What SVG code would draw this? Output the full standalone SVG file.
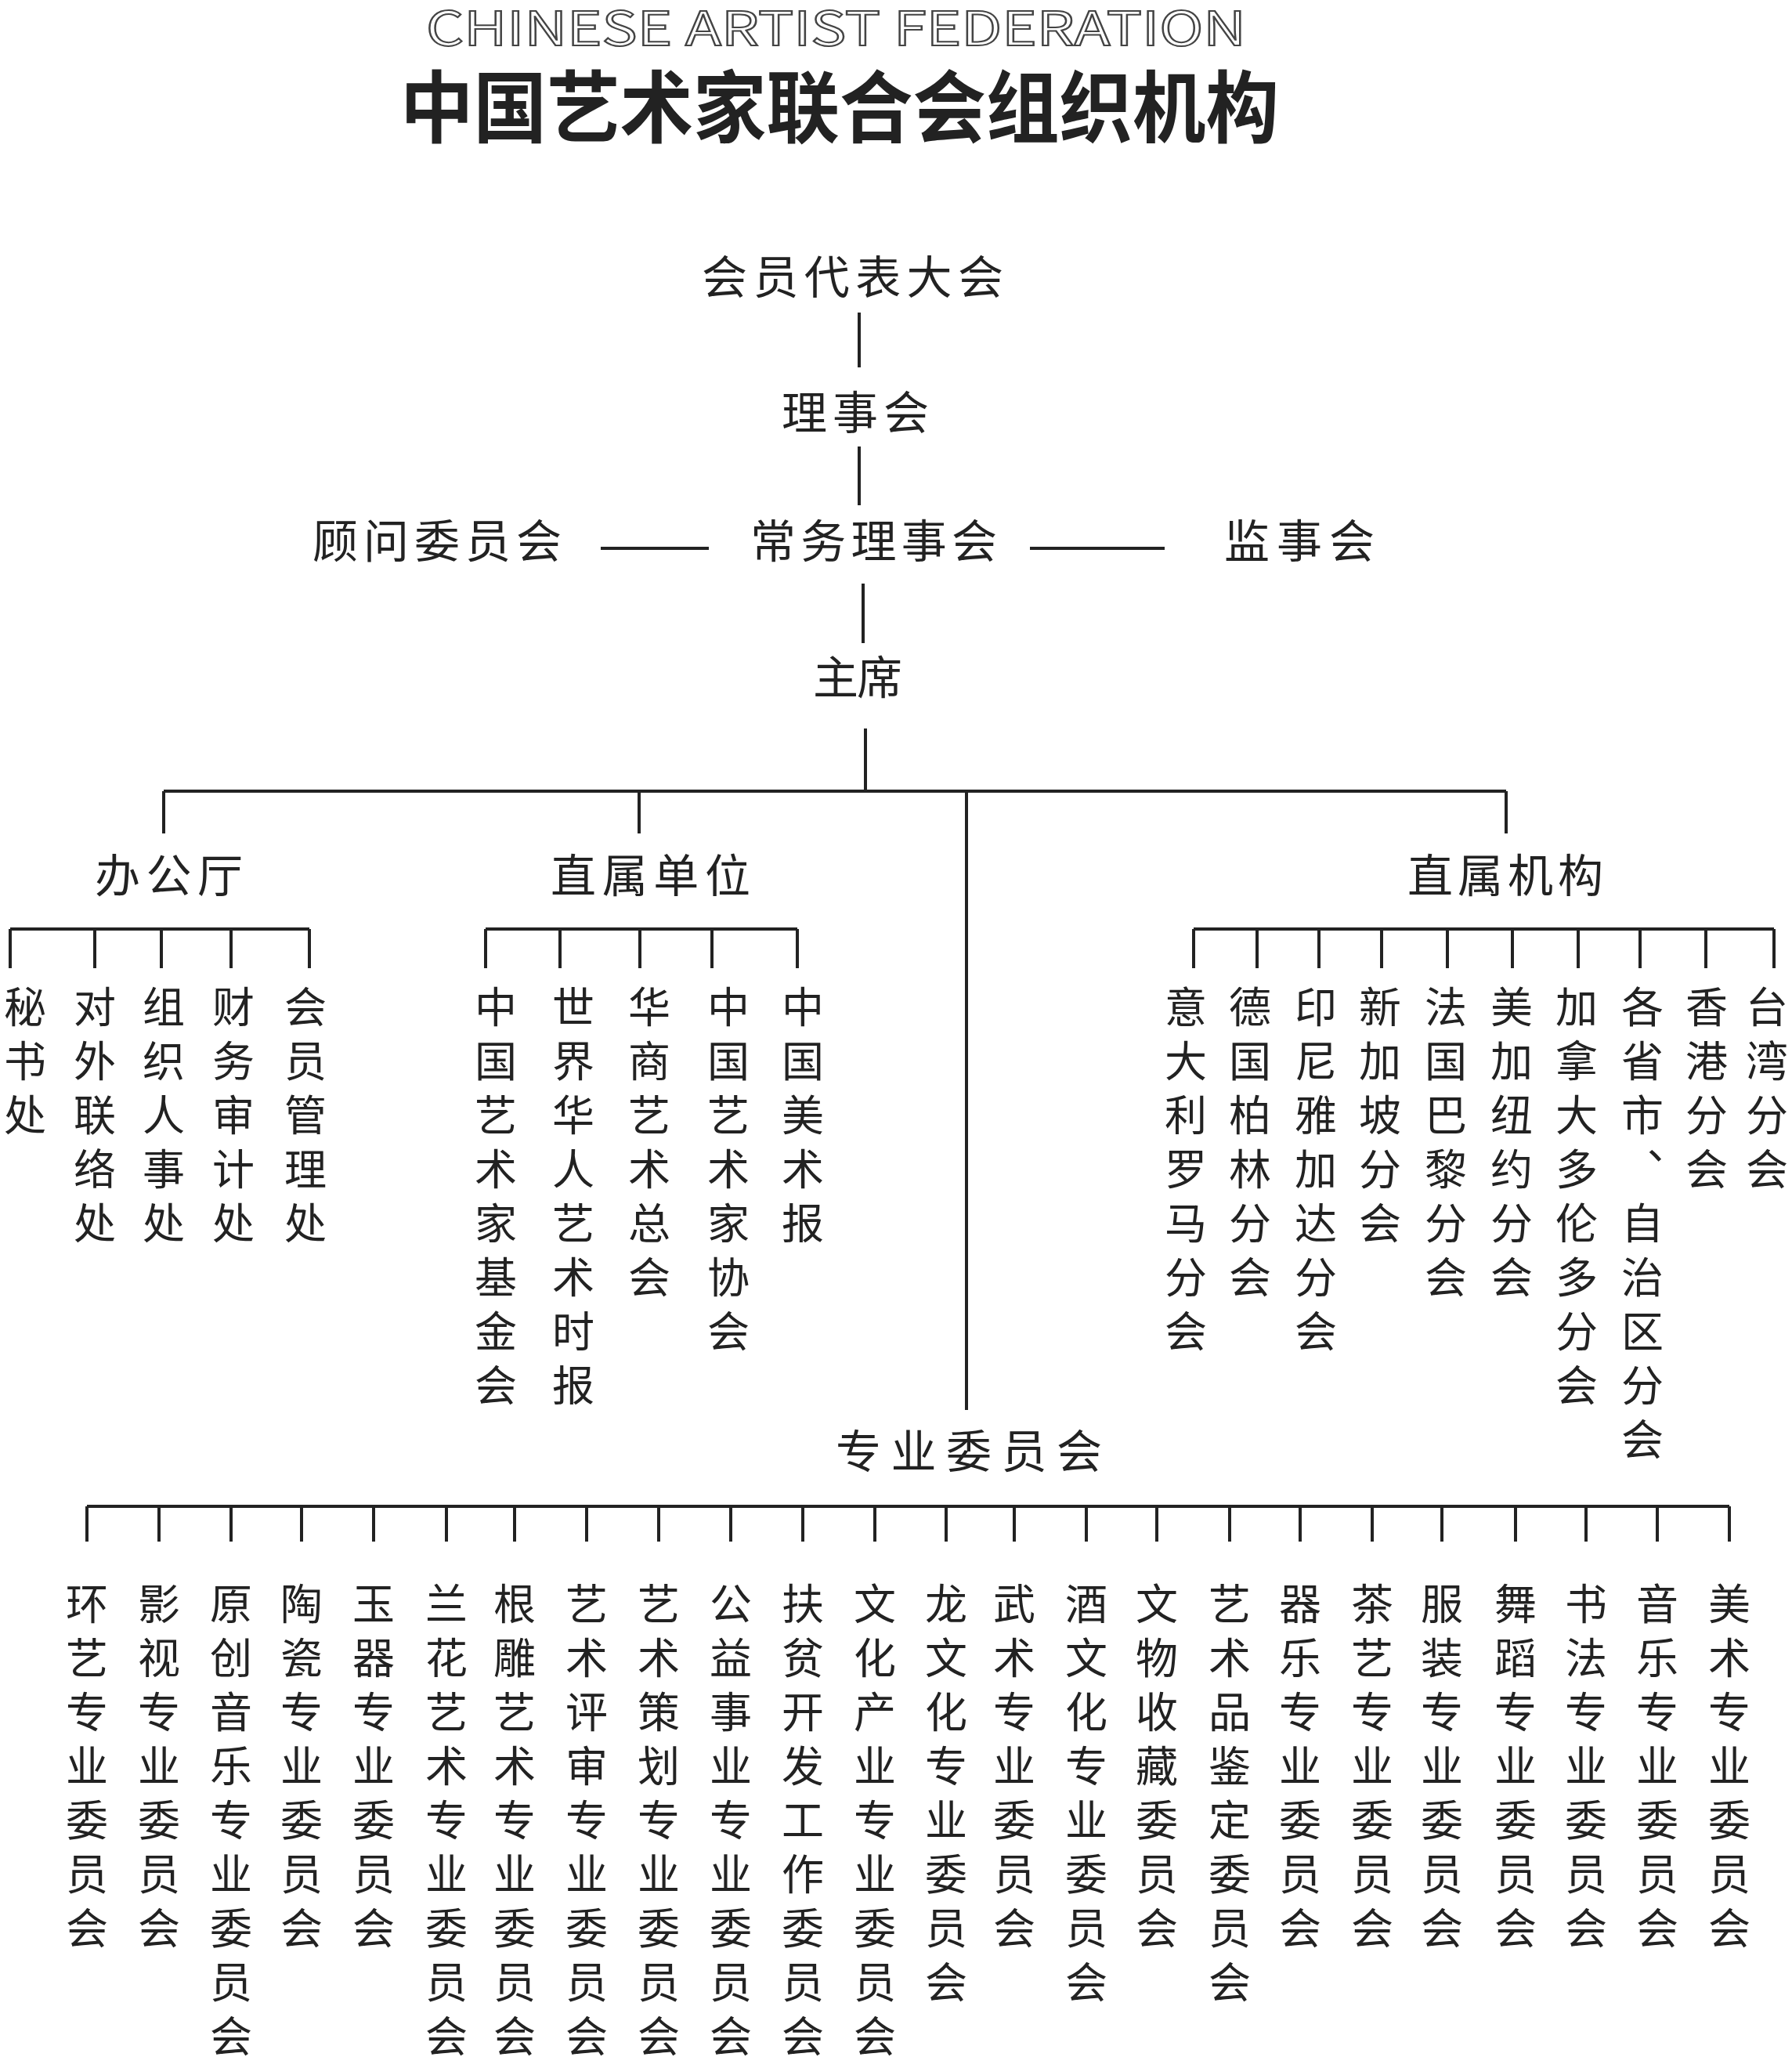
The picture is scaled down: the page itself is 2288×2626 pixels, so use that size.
<svg xmlns="http://www.w3.org/2000/svg" width="2288" height="2626" viewBox="0 0 2288 2626">
<style>
text{font-family:"Noto Sans CJK SC","Liberation Sans",sans-serif;fill:#222}
.h{font-size:58px}
.v{font-size:54px;writing-mode:tb;letter-spacing:15px}
.ln{stroke:#222;stroke-width:4;fill:none}
</style>
<rect width="2288" height="2626" fill="#fff"/>
<g id="title">
<text x="544" y="58" font-family="Liberation Sans" font-size="60" textLength="1047" lengthAdjust="spacingAndGlyphs" style="fill:#fff;stroke:#444;stroke-width:2">CHINESE ARTIST FEDERATION</text>
<text x="511" y="174" font-size="100" font-weight="bold" textLength="1122" lengthAdjust="spacingAndGlyphs">中国艺术家联合会组织机构</text>
</g>
<g id="connectors" class="ln">
<path d="M1097 399V469M1097 570V645M767 700H905M1315 700H1487M1102 745V821M1105 930V1010M209 1010H1923M209 1010V1064M816 1010V1064M1234 1010V1800M1923 1010V1064"/>
<path d="M13 1186H395M13 1186V1236M121 1186V1236M206 1186V1236M295 1186V1236M395 1186V1236"/>
<path d="M620 1186H1018M620 1186V1236M715 1186V1236M817 1186V1236M909 1186V1236M1018 1186V1236"/>
<path d="M1524 1186H2265M1524 1186V1236M1605 1186V1236M1684 1186V1236M1764 1186V1236M1848 1186V1236M1931 1186V1236M2015 1186V1236M2094 1186V1236M2178 1186V1236M2265 1186V1236"/>
<path d="M111 1923H2208M111 1923V1968M203 1923V1968M295 1923V1968M385 1923V1968M477 1923V1968M570 1923V1968M657 1923V1968M749 1923V1968M841 1923V1968M933 1923V1968M1025 1923V1968M1117 1923V1968M1208 1923V1968M1295 1923V1968M1387 1923V1968M1477 1923V1968M1570 1923V1968M1660 1923V1968M1752 1923V1968M1841 1923V1968M1935 1923V1968M2025 1923V1968M2116 1923V1968M2208 1923V1968"/>
</g>
<g id="n-top"><text class="h" x="896" y="375" textLength="385">会员代表大会</text></g>
<g id="n-lishi"><text class="h" x="998" y="548" textLength="188">理事会</text></g>
<g id="n-guwen"><text class="h" x="399" y="712" textLength="318">顾问委员会</text></g>
<g id="n-changwu"><text class="h" x="958" y="712" textLength="315">常务理事会</text></g>
<g id="n-jianshi"><text class="h" x="1563" y="712" textLength="192">监事会</text></g>
<g id="n-zhuxi"><text class="h" x="1038" y="886" textLength="114">主席</text></g>
<g id="n-bgt"><text class="h" x="121" y="1139" textLength="189">办公厅</text></g>
<g id="n-zsdw"><text class="h" x="703" y="1139" textLength="255">直属单位</text></g>
<g id="n-zsjg"><text class="h" x="1797" y="1139" textLength="250">直属机构</text></g>
<g id="n-zywyh"><text class="h" x="1067" y="1874" textLength="340">专业委员会</text></g>
<g id="office">
<text class="v" x="32" y="1258">秘书处</text>
<text class="v" x="121" y="1258">对外联络处</text>
<text class="v" x="209" y="1258">组织人事处</text>
<text class="v" x="298" y="1258">财务审计处</text>
<text class="v" x="390" y="1258">会员管理处</text>
</g>
<g id="units">
<text class="v" x="633" y="1258">中国艺术家基金会</text>
<text class="v" x="732" y="1258">世界华人艺术时报</text>
<text class="v" x="829" y="1258">华商艺术总会</text>
<text class="v" x="930" y="1258">中国艺术家协会</text>
<text class="v" x="1025" y="1258">中国美术报</text>
</g>
<g id="institutions">
<text class="v" x="1514" y="1258">意大利罗马分会</text>
<text class="v" x="1596" y="1258">德国柏林分会</text>
<text class="v" x="1680" y="1258">印尼雅加达分会</text>
<text class="v" x="1762" y="1258">新加坡分会</text>
<text class="v" x="1846" y="1258">法国巴黎分会</text>
<text class="v" x="1930" y="1258">美加纽约分会</text>
<text class="v" x="2013" y="1258">加拿大多伦多分会</text>
<text class="v" x="2097" y="1258">各省市、自治区分会</text>
<text class="v" x="2179" y="1258">香港分会</text>
<text class="v" x="2256" y="1258">台湾分会</text>
</g>
<g id="committees">
<text class="v" x="111" y="2020">环艺专业委员会</text>
<text class="v" x="203" y="2020">影视专业委员会</text>
<text class="v" x="295" y="2020">原创音乐专业委员会</text>
<text class="v" x="385" y="2020">陶瓷专业委员会</text>
<text class="v" x="477" y="2020">玉器专业委员会</text>
<text class="v" x="570" y="2020">兰花艺术专业委员会</text>
<text class="v" x="657" y="2020">根雕艺术专业委员会</text>
<text class="v" x="749" y="2020">艺术评审专业委员会</text>
<text class="v" x="841" y="2020">艺术策划专业委员会</text>
<text class="v" x="933" y="2020">公益事业专业委员会</text>
<text class="v" x="1025" y="2020">扶贫开发工作委员会</text>
<text class="v" x="1117" y="2020">文化产业专业委员会</text>
<text class="v" x="1208" y="2020">龙文化专业委员会</text>
<text class="v" x="1295" y="2020">武术专业委员会</text>
<text class="v" x="1387" y="2020">酒文化专业委员会</text>
<text class="v" x="1477" y="2020">文物收藏委员会</text>
<text class="v" x="1570" y="2020">艺术品鉴定委员会</text>
<text class="v" x="1660" y="2020">器乐专业委员会</text>
<text class="v" x="1752" y="2020">茶艺专业委员会</text>
<text class="v" x="1841" y="2020">服装专业委员会</text>
<text class="v" x="1935" y="2020">舞蹈专业委员会</text>
<text class="v" x="2025" y="2020">书法专业委员会</text>
<text class="v" x="2116" y="2020">音乐专业委员会</text>
<text class="v" x="2208" y="2020">美术专业委员会</text>
</g>
</svg>
